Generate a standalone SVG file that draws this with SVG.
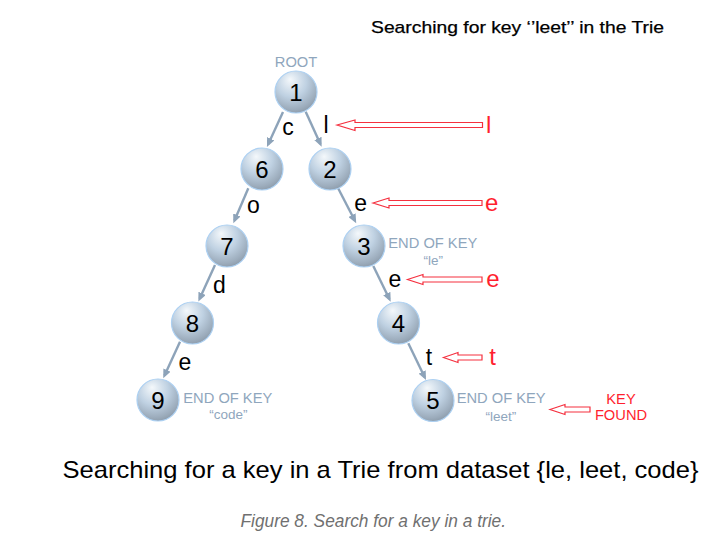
<svg xmlns="http://www.w3.org/2000/svg" width="725" height="539" viewBox="0 0 725 539">
<style>
.ball{fill:url(#sph);stroke:#acd0f2;stroke-width:1.2}
.num{font-family:"Liberation Sans",Arial,sans-serif;font-size:24px;fill:#000;text-anchor:middle}
.lbl{font-family:"Liberation Sans",Arial,sans-serif;font-size:23px;fill:#000;text-anchor:middle}
.red{font-family:"Liberation Sans",Arial,sans-serif;font-size:24px;fill:#ff1f2f;text-anchor:middle}
.eok{font-family:"Liberation Sans",Arial,sans-serif;font-size:14.7px;fill:#8fa6bd}
.q{font-family:"Liberation Sans",Arial,sans-serif;font-size:13.5px;fill:#8fa6bd;text-anchor:middle}
.kf{font-family:"Liberation Sans",Arial,sans-serif;font-size:14.7px;fill:#ff1f2f;text-anchor:middle}
.edge{stroke:#8da3b9;stroke-width:2.4;fill:none;marker-end:url(#ah)}
.harrow{fill:#fff;stroke:#f5303f;stroke-width:1.2}
</style>
<defs>
<radialGradient id="sph" cx="0.42" cy="0.32" r="0.72" fx="0.36" fy="0.2">
<stop offset="0" stop-color="#f4f8fb"/>
<stop offset="0.5" stop-color="#bfd1e2"/>
<stop offset="0.85" stop-color="#9cacbc"/>
<stop offset="1" stop-color="#8a99a8"/>
</radialGradient>
<marker id="ah" markerUnits="userSpaceOnUse" markerWidth="10" markerHeight="8" viewBox="0 0 10 8" refX="6" refY="4" orient="auto">
<path d="M0,0 L9,4 L0,8 z" fill="#8da3b9"/>
</marker>
</defs>
<rect width="725" height="539" fill="#fff"/>
<text x="371" y="33" font-family="'Liberation Sans',Arial,sans-serif" font-size="17" textLength="293" lengthAdjust="spacingAndGlyphs" fill="#000" stroke="#000" stroke-width="0.25">Searching for key ‘’leet’’ in the Trie</text>
<g id="connectors">
<path class="edge" d="M283,112 L268.2,144.2"/>
<path class="edge" d="M305.7,111.7 L320.4,143.9"/>
<path class="edge" d="M248.3,188.3 L234.5,220.5"/>
<path class="edge" d="M215,265 L199.6,298.8"/>
<path class="edge" d="M180,341.7 L164.5,375.5"/>
<path class="edge" d="M338,188 L354.8,220.5"/>
<path class="edge" d="M373.3,266 L389.4,299"/>
<path class="edge" d="M408.3,343.3 L424.7,377.3"/>
</g>
<g id="search-arrows">
<polygon class="harrow" points="337,125 355,120 355,122.5 482.5,122.5 482.5,127.5 355,127.5 355,130.5"/>
<polygon class="harrow" points="373,203 389,198 389,200.5 482,200.5 482,205.5 389,205.5 389,208"/>
<polygon class="harrow" points="407.5,279.5 423,274.5 423,277 482,277 482,282 423,282 423,284.5"/>
<polygon class="harrow" points="443.5,357.5 458,352.5 458,355 482,355 482,360 458,360 458,362.5"/>
<polygon class="harrow" points="550,409.5 565,404.5 565,407 590,407 590,412 565,412 565,414.5"/>
</g>
<g id="labels">
<text class="lbl" x="288" y="135">c</text>
<text class="lbl" x="326" y="133">l</text>
<text class="red" x="488.7" y="133">l</text>
<text class="lbl" x="253.3" y="212.5">o</text>
<text class="lbl" x="219.3" y="292.5">d</text>
<text class="lbl" x="185" y="370">e</text>
<text class="lbl" x="360.7" y="210.5">e</text>
<text class="red" x="491.7" y="210.5">e</text>
<text class="lbl" x="395" y="286.7">e</text>
<text class="red" x="493" y="287">e</text>
<text class="lbl" x="429" y="365">t</text>
<text class="red" x="492.7" y="365">t</text>
</g>
<g id="n1"><text class="eok" x="296" y="67" text-anchor="middle" font-size="14.5">ROOT</text><circle class="ball" cx="296" cy="92" r="21"/><text class="num" x="296" y="100.5">1</text></g>
<g id="n6"><circle class="ball" cx="262" cy="169" r="21"/><text class="num" x="262" y="177.5">6</text></g>
<g id="n2"><circle class="ball" cx="330" cy="169" r="21"/><text class="num" x="330" y="177.5">2</text></g>
<g id="n7"><circle class="ball" cx="227" cy="246" r="21"/><text class="num" x="227" y="254.5">7</text></g>
<g id="n3"><circle class="ball" cx="364" cy="246" r="21"/><text class="num" x="364" y="254.5">3</text><text class="eok" x="388.3" y="248.3">END OF KEY</text><text class="q" x="433.3" y="264.5">“le”</text></g>
<g id="n8"><circle class="ball" cx="192.5" cy="323" r="21"/><text class="num" x="192.5" y="331.5">8</text></g>
<g id="n4"><circle class="ball" cx="398.5" cy="323" r="21"/><text class="num" x="398.5" y="331.5">4</text></g>
<g id="n9"><circle class="ball" cx="158" cy="400" r="21"/><text class="num" x="158" y="408.5">9</text><text class="eok" x="183.3" y="403.3">END OF KEY</text><text class="q" x="228.3" y="419.3">“code”</text></g>
<g id="n5"><circle class="ball" cx="433" cy="400.5" r="21"/><text class="num" x="433" y="409">5</text><text class="eok" x="456.7" y="402.7">END OF KEY</text><text class="q" x="501" y="420.5">“leet”</text></g>
<g id="keyfound"><text class="kf" x="621" y="404">KEY</text><text class="kf" x="621" y="420">FOUND</text></g>
<text x="62.5" y="478.3" font-family="'Liberation Sans',Arial,sans-serif" font-size="24" textLength="636" lengthAdjust="spacingAndGlyphs" fill="#000">Searching for a key in a Trie from dataset {le, leet, code}</text>
<text x="240.5" y="526.7" font-family="'Liberation Sans',Arial,sans-serif" font-size="17.5" font-style="italic" textLength="265.5" lengthAdjust="spacingAndGlyphs" fill="#707070">Figure 8. Search for a key in a trie.</text>
</svg>
